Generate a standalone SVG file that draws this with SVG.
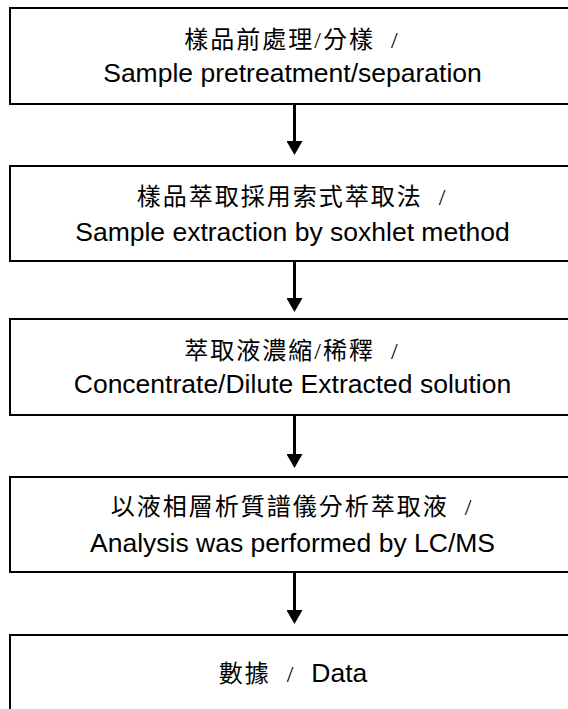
<svg xmlns="http://www.w3.org/2000/svg" width="568" height="709" viewBox="0 0 568 709">
<style>
.box{fill:#fff;stroke:#000;stroke-width:2}
.zh{font-family:"Liberation Serif","Noto Sans CJK TC",serif;font-size:24px;letter-spacing:2px;fill:#000;text-anchor:middle}
.en{font-family:"Liberation Sans",Arial,sans-serif;font-size:26.5px;fill:#000;text-anchor:middle}
.en2{font-family:"Liberation Sans",Arial,sans-serif;font-size:26.5px;letter-spacing:0}
.conn{stroke:#000;stroke-width:3;fill:none;marker-end:url(#ah)}
</style>
<defs>
<marker id="ah" viewBox="0 0 14 16" refX="0" refY="8" markerWidth="14" markerHeight="16" markerUnits="userSpaceOnUse" orient="auto">
<path d="M0,0 L14,8 L0,16 z" fill="#000"/>
</marker>
</defs>
<rect width="568" height="709" fill="#fff"/>
<g id="node1">
<rect class="box" x="10" y="8" width="566" height="96"/>
<text class="zh" x="292" y="48" xml:space="preserve">樣品前處理/分樣  /</text>
<text class="en" x="292.5" y="82">Sample pretreatment/separation</text>
</g>
<g id="node2">
<rect class="box" x="10" y="166" width="566" height="95"/>
<text class="zh" x="292" y="205" xml:space="preserve">樣品萃取採用索式萃取法  /</text>
<text class="en" x="292.5" y="241">Sample extraction by soxhlet method</text>
</g>
<g id="node3">
<rect class="box" x="10" y="319" width="566" height="96"/>
<text class="zh" x="292" y="359" xml:space="preserve">萃取液濃縮/稀釋  /</text>
<text class="en" x="292.5" y="393">Concentrate/Dilute Extracted solution</text>
</g>
<g id="node4">
<rect class="box" x="10" y="477" width="566" height="95"/>
<text class="zh" x="292" y="515" xml:space="preserve">以液相層析質譜儀分析萃取液  /</text>
<text class="en" x="292.5" y="552">Analysis was performed by LC/MS</text>
</g>
<g id="node5">
<rect class="box" x="10" y="635" width="566" height="90"/>
<text class="zh" x="293" y="682" xml:space="preserve">數據  /  <tspan class="en2">Data</tspan></text>
</g>
<g id="connectors">
<line class="conn" x1="294.5" y1="104" x2="294.5" y2="141"/>
<line class="conn" x1="294.5" y1="261" x2="294.5" y2="298"/>
<line class="conn" x1="294.5" y1="415" x2="294.5" y2="454"/>
<line class="conn" x1="294.5" y1="572" x2="294.5" y2="610"/>
</g>
</svg>
